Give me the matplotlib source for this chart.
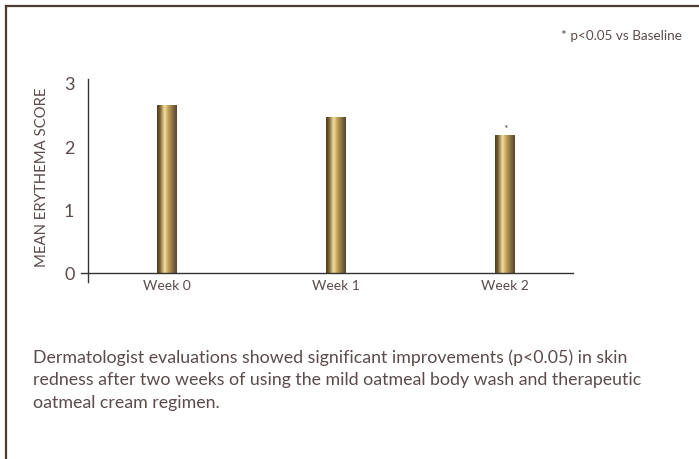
import matplotlib
matplotlib.use("Agg")
import matplotlib.pyplot as plt
from matplotlib.colors import LinearSegmentedColormap
from matplotlib.lines import Line2D
import numpy as np

# data
weeks = ["Week 0", "Week 1", "Week 2"]
scores = [2.65, 2.46, 2.18]
significant = [False, False, True]
y_ticks = [0, 1, 2, 3]

text_color = "#5b4b4b"
frame_color = "#4a3a30"

plt.rcParams["font.family"] = ["Lato", "DejaVu Sans"]

fig = plt.figure(figsize=(6.99, 4.60), dpi=100)

# page frame: top and left rule only
fig.add_artist(Line2D([6 / 699, 1.0], [1 - 7 / 460, 1 - 7 / 460], color=frame_color, lw=1.6))
fig.add_artist(Line2D([6 / 699, 6 / 699], [0, 1 - 7 / 460], color=frame_color, lw=1.6))

ax = fig.add_axes([81 / 699, 177 / 460, 492 / 699, 203 / 460])

x = np.arange(len(weeks))
bar_w = 0.118

# gold metallic gradient across each bar
gold = LinearSegmentedColormap.from_list("gold", [
    (0.0, "#4a3a1c"),
    (0.15, "#7a5e2c"),
    (0.38, "#f2e2a8"),
    (0.55, "#c9a455"),
    (0.78, "#86704a"),
    (1.0, "#55442c"),
])
grad = np.linspace(0, 1, 256).reshape(1, -1)

bars = ax.bar(x, scores, width=bar_w, color="none", edgecolor="none", zorder=2)
for rect in bars:
    x0 = rect.get_x()
    h = rect.get_height()
    im = ax.imshow(grad, cmap=gold, aspect="auto", extent=[x0, x0 + bar_w, 0, h],
                   zorder=2, interpolation="bicubic")
    im.set_clip_path(rect)

for xi, val, sig in zip(x, scores, significant):
    if sig:
        ax.text(xi, val + 0.03, "*", ha="center", va="bottom", fontsize=7.5, color=text_color)

ax.set_xlim(-0.51, 2.40)
ax.set_ylim(-0.142, 3.06)

ax.spines["left"].set_position(("data", -0.467))
ax.spines["bottom"].set_position(("data", 0))
for s in ["top", "right"]:
    ax.spines[s].set_visible(False)
for s in ["left", "bottom"]:
    ax.spines[s].set_color("#333333")
    ax.spines[s].set_linewidth(1.0)
ax.spines["bottom"].set_zorder(3)

ax.set_xticks(x)
ax.set_xticklabels(weeks)
ax.set_yticks(y_ticks)
ax.tick_params(axis="x", length=0, pad=4, labelsize=10, labelcolor=text_color)
ax.tick_params(axis="y", length=0, pad=10, labelsize=13, labelcolor=text_color)

fig.text(42 / 699, 1 - 177 / 460, "MEAN ERYTHEMA SCORE", rotation=90, ha="center", va="center",
         fontsize=10.7, color=text_color)

fig.text(682 / 699, 1 - 36 / 460, "* p<0.05 vs Baseline", ha="right", va="center",
         fontsize=9.7, color=text_color)

caption = ("Dermatologist evaluations showed significant improvements (p<0.05) in skin\n"
           "redness after two weeks of using the mild oatmeal body wash and therapeutic\n"
           "oatmeal cream regimen.")
fig.text(33 / 699, 1 - 349 / 460, caption, ha="left", va="top", fontsize=12.8,
         color=text_color, linespacing=1.5)

fig.savefig("out.png", dpi=100)
